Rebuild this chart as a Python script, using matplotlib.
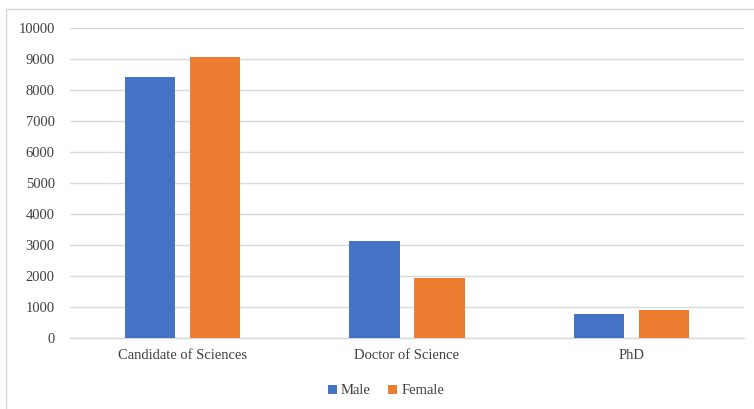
import matplotlib
matplotlib.use("Agg")
import matplotlib.pyplot as plt
import numpy as np
from matplotlib.patches import Rectangle
from matplotlib import font_manager

categories = ["Candidate of Sciences", "Doctor of Science", "PhD"]
male = [8430, 3130, 790]
female = [9080, 1940, 915]
yticks = list(range(0, 10001, 1000))

serif_names = [f.name for f in font_manager.fontManager.ttflist if 'Serif' in f.name and 'Liberation' in f.name]
fam = serif_names[0] if serif_names else 'DejaVu Serif'
plt.rcParams['font.family'] = 'serif'
plt.rcParams['font.serif'] = [fam, 'Times New Roman', 'DejaVu Serif']

W, H = 754, 409
fig = plt.figure(figsize=(W / 100, H / 100), dpi=100)
fig.patch.set_facecolor('white')

fig.patches.append(Rectangle((6 / W, -0.1), 1.2, (H - 9) / H + 0.1, transform=fig.transFigure,
                             fill=False, edgecolor='#d9d9d9', linewidth=1.0))

left, right, bottom, top = 70 / W, 744 / W, 1 - 338 / H, 1 - 28 / H
ax = fig.add_axes([left, bottom, right - left, top - bottom])

x = np.arange(len(categories))
bw = 0.224
off = 0.145
ax.bar(x - off, male, bw, color='#4472C4', label='Male', zorder=3)
ax.bar(x + off, female, bw, color='#ED7D31', label='Female', zorder=3)

ax.set_xlim(-0.5, len(categories) - 0.5)
ax.set_ylim(0, 10000)
ax.set_yticks(yticks)
ax.set_yticklabels([str(v) for v in yticks], fontsize=10.5, color='#404040')
ax.set_xticks(x)
ax.set_xticklabels(categories, fontsize=10.5, color='#404040')
ax.tick_params(axis='both', length=0, pad=8)
ax.tick_params(axis='y', pad=11)
ax.grid(axis='y', color='#d9d9d9', linewidth=1.0, zorder=0)
for s in ['top', 'right', 'left']:
    ax.spines[s].set_visible(False)
ax.spines['bottom'].set_color('#d9d9d9')
ax.spines['bottom'].set_linewidth(1.0)

leg = fig.legend(loc='center', bbox_to_anchor=(386 / W, 1 - 391 / H), ncol=2, frameon=False,
                 fontsize=10.5, handlelength=0.6, handleheight=0.6, handletextpad=0.3,
                 columnspacing=1.2)
for t in leg.get_texts():
    t.set_color('#404040')

fig.savefig('out.png', dpi=100, facecolor='white')
